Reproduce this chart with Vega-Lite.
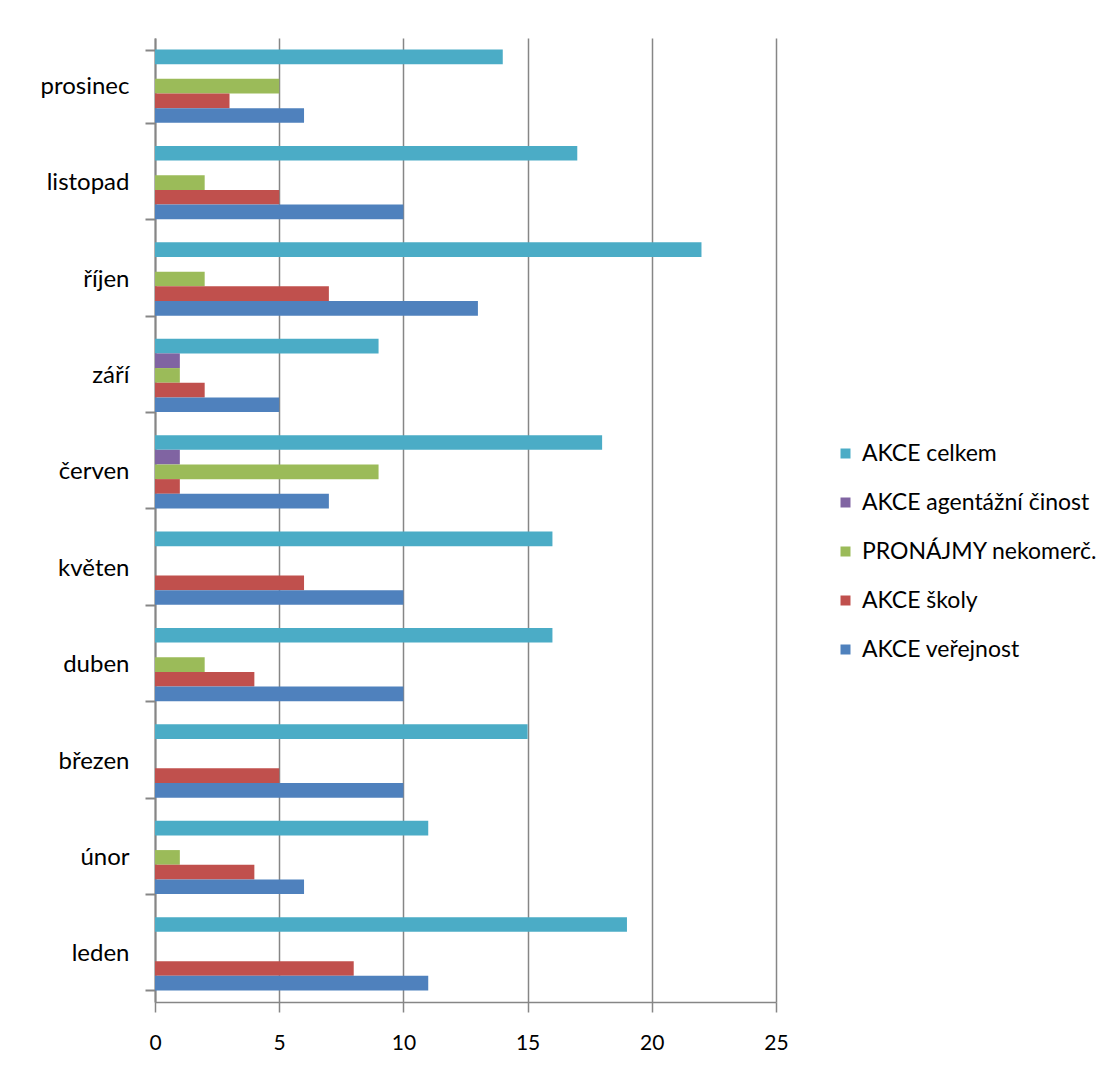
{
  "$schema": "https://vega.github.io/schema/vega-lite/v6.json",
  "width": 621,
  "height": 964,
  "autosize": {"type": "none"},
  "padding": {"left": 155, "top": 38, "right": 336, "bottom": 77},
  "background": "white",
  "config": {
    "view": {"stroke": null},
    "font": "Lato",
    "axis": {"labelFont": "Lato", "labelColor": "#000000", "domainColor": "#868686", "tickColor": "#868686", "gridColor": "#868686"},
    "legend": {"labelFont": "Lato", "labelFontSize": 23, "labelColor": "#000000", "labelLimit": 400}
  },
  "data": {
    "values": [
      {"month": "prosinec", "series": "AKCE celkem", "value": 14},
      {"month": "prosinec", "series": "AKCE agentážní činost", "value": 0},
      {"month": "prosinec", "series": "PRONÁJMY nekomerč.", "value": 5},
      {"month": "prosinec", "series": "AKCE školy", "value": 3},
      {"month": "prosinec", "series": "AKCE veřejnost", "value": 6},
      {"month": "listopad", "series": "AKCE celkem", "value": 17},
      {"month": "listopad", "series": "AKCE agentážní činost", "value": 0},
      {"month": "listopad", "series": "PRONÁJMY nekomerč.", "value": 2},
      {"month": "listopad", "series": "AKCE školy", "value": 5},
      {"month": "listopad", "series": "AKCE veřejnost", "value": 10},
      {"month": "říjen", "series": "AKCE celkem", "value": 22},
      {"month": "říjen", "series": "AKCE agentážní činost", "value": 0},
      {"month": "říjen", "series": "PRONÁJMY nekomerč.", "value": 2},
      {"month": "říjen", "series": "AKCE školy", "value": 7},
      {"month": "říjen", "series": "AKCE veřejnost", "value": 13},
      {"month": "září", "series": "AKCE celkem", "value": 9},
      {"month": "září", "series": "AKCE agentážní činost", "value": 1},
      {"month": "září", "series": "PRONÁJMY nekomerč.", "value": 1},
      {"month": "září", "series": "AKCE školy", "value": 2},
      {"month": "září", "series": "AKCE veřejnost", "value": 5},
      {"month": "červen", "series": "AKCE celkem", "value": 18},
      {"month": "červen", "series": "AKCE agentážní činost", "value": 1},
      {"month": "červen", "series": "PRONÁJMY nekomerč.", "value": 9},
      {"month": "červen", "series": "AKCE školy", "value": 1},
      {"month": "červen", "series": "AKCE veřejnost", "value": 7},
      {"month": "květen", "series": "AKCE celkem", "value": 16},
      {"month": "květen", "series": "AKCE agentážní činost", "value": 0},
      {"month": "květen", "series": "PRONÁJMY nekomerč.", "value": 0},
      {"month": "květen", "series": "AKCE školy", "value": 6},
      {"month": "květen", "series": "AKCE veřejnost", "value": 10},
      {"month": "duben", "series": "AKCE celkem", "value": 16},
      {"month": "duben", "series": "AKCE agentážní činost", "value": 0},
      {"month": "duben", "series": "PRONÁJMY nekomerč.", "value": 2},
      {"month": "duben", "series": "AKCE školy", "value": 4},
      {"month": "duben", "series": "AKCE veřejnost", "value": 10},
      {"month": "březen", "series": "AKCE celkem", "value": 15},
      {"month": "březen", "series": "AKCE agentážní činost", "value": 0},
      {"month": "březen", "series": "PRONÁJMY nekomerč.", "value": 0},
      {"month": "březen", "series": "AKCE školy", "value": 5},
      {"month": "březen", "series": "AKCE veřejnost", "value": 10},
      {"month": "únor", "series": "AKCE celkem", "value": 11},
      {"month": "únor", "series": "AKCE agentážní činost", "value": 0},
      {"month": "únor", "series": "PRONÁJMY nekomerč.", "value": 1},
      {"month": "únor", "series": "AKCE školy", "value": 4},
      {"month": "únor", "series": "AKCE veřejnost", "value": 6},
      {"month": "leden", "series": "AKCE celkem", "value": 19},
      {"month": "leden", "series": "AKCE agentážní činost", "value": 0},
      {"month": "leden", "series": "PRONÁJMY nekomerč.", "value": 0},
      {"month": "leden", "series": "AKCE školy", "value": 8},
      {"month": "leden", "series": "AKCE veřejnost", "value": 11}
    ]
  },
  "mark": {"type": "bar"},
  "encoding": {
    "y": {
      "field": "month",
      "type": "nominal",
      "sort": ["prosinec", "listopad", "říjen", "září", "červen", "květen", "duben", "březen", "únor", "leden"],
      "scale": {"paddingInner": 0.24, "paddingOuter": 0.12},
      "axis": {
        "title": null,
        "labelFontSize": 24,
        "domainWidth": 2,
        "tickWidth": 2,
        "tickSize": 10,
        "tickBand": "extent",
        "labelPadding": 16,
        "grid": false
      }
    },
    "yOffset": {
      "field": "series",
      "type": "nominal",
      "sort": ["AKCE celkem", "AKCE agentážní činost", "PRONÁJMY nekomerč.", "AKCE školy", "AKCE veřejnost"],
      "scale": {"paddingInner": 0, "paddingOuter": 0}
    },
    "x": {
      "field": "value",
      "type": "quantitative",
      "scale": {"domain": [0, 25], "nice": false},
      "axis": {
        "title": null,
        "labelFontSize": 21,
        "values": [0, 5, 10, 15, 20, 25],
        "grid": true,
        "gridWidth": 1.5,
        "domainWidth": 1.5,
        "tickWidth": 1.5,
        "tickSize": 10,
        "labelPadding": 20,
        "labelFlush": false
      }
    },
    "color": {
      "field": "series",
      "type": "nominal",
      "sort": ["AKCE celkem", "AKCE agentážní činost", "PRONÁJMY nekomerč.", "AKCE školy", "AKCE veřejnost"],
      "scale": {
        "domain": ["AKCE celkem", "AKCE agentážní činost", "PRONÁJMY nekomerč.", "AKCE školy", "AKCE veřejnost"],
        "range": ["#4BACC6", "#8064A2", "#9BBB59", "#C0504D", "#4F81BD"]
      },
      "legend": {
        "title": null,
        "orient": "none",
        "legendX": 679,
        "legendY": 404,
        "symbolType": "square",
        "symbolSize": 100,
        "symbolStrokeWidth": 0,
        "rowPadding": 25,
        "labelOffset": 5
      }
    }
  }
}
